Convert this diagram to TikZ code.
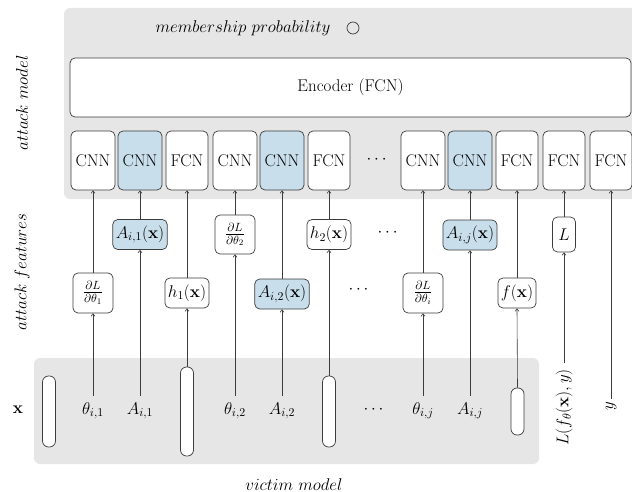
\RequirePackage{fix-cm}
\documentclass[tikz,border=0pt]{standalone}
\usepackage{amsmath}
\usetikzlibrary{arrows.meta}
\definecolor{bgray}{RGB}{230,230,230}
\definecolor{lblue}{RGB}{200,222,235}
\definecolor{edge}{RGB}{60,60,60}
\begin{document}
\begin{tikzpicture}[x=1pt,y=-1pt,
  font=\fontsize{17}{20}\selectfont,
  box/.style={draw=edge, line width=0.7pt, rounded corners=5pt, fill=white, inner sep=3pt, align=center},
  cnn/.style={box, minimum width=44pt, minimum height=59pt},
  fcn/.style={box, minimum width=42pt, minimum height=59pt},
  hl/.style={fill=lblue},
  feat/.style={box, minimum height=30pt, inner xsep=3pt},
  grad/.style={feat, minimum height=40pt, minimum width=40pt},
  pill/.style={draw=edge, line width=0.7pt, rounded corners=6pt, fill=white, minimum width=13pt, inner sep=0pt},
  lbl/.style={anchor=north, text height=16pt, text depth=5pt, inner sep=2pt},
  arr/.style={draw=edge, line width=0.6pt, -{Straight Barb[length=2.5pt,width=4pt]}},
]
\useasboundingbox (0,0) rectangle (632,492);
\fill[bgray, rounded corners=6pt] (64,8) rectangle (645,199);
\fill[bgray, rounded corners=6pt] (34,358) rectangle (539,464);

% attack model
\node[anchor=base] (mp) at (243,33) {$membership~probability$};
\node[draw=edge, circle, minimum size=12pt, inner sep=0pt, line width=0.7pt] (out) at (353,28) {};
\node[box, minimum height=59pt, minimum width=561pt] (enc) at (350.5,87.5) {Encoder (FCN)};

\node[cnn] (c1) at (93,160.5) {CNN};
\node[cnn,hl] (c2) at (140,160.5) {CNN};
\node[fcn] (c3) at (187,160.5) {FCN};
\node[cnn] (c4) at (235,160.5) {CNN};
\node[cnn,hl] (c5) at (282,160.5) {CNN};
\node[fcn] (c6) at (329,160.5) {FCN};
\node (d1) at (378,160) {$\cdots$};
\node[cnn] (c7) at (423,160.5) {CNN};
\node[cnn,hl] (c8) at (470,160.5) {CNN};
\node[fcn] (c9) at (517,160.5) {FCN};
\node[fcn] (c10) at (564,160.5) {FCN};
\node[fcn] (c11) at (611,160.5) {FCN};

% features, upper row
\node[feat,hl] (a1) at (140,234.5) {$A_{i,1}(\mathbf{x})$};
\node[grad, minimum height=39pt] (g2) at (235,234.5) {$\frac{\partial L}{\partial\theta_2}$};
\node[feat] (h2) at (329,234.5) {$h_2(\mathbf{x})$};
\node (d2) at (389,233) {$\cdots$};
\node[feat,hl] (aj) at (470,235) {$A_{i,j}(\mathbf{x})$};
\node[feat, minimum height=35pt, minimum width=23pt] (lb) at (564,234.5) {$L$};

% features, lower row
\node[grad] (g1) at (93,293) {$\frac{\partial L}{\partial\theta_1}$};
\node[feat] (h1) at (187,293) {$h_1(\mathbf{x})$};
\node[feat,hl] (a2) at (282,294) {$A_{i,2}(\mathbf{x})$};
\node (d3) at (360,290) {$\cdots$};
\node[grad] (gi) at (423,293) {$\frac{\partial L}{\partial\theta_i}$};
\node[feat] (fx) at (517,293) {$f(\mathbf{x})$};

% victim model
\node[pill, minimum height=71pt] (p1) at (49,411.5) {};
\node[lbl] (t1) at (93,396) {$\theta_{i,1}$};
\node[lbl] (s1) at (140,396) {$A_{i,1}$};
\node[pill, minimum height=89pt] (p2) at (187,411.5) {};
\node[lbl] (t2) at (235,396) {$\theta_{i,2}$};
\node[lbl] (s2) at (282,396) {$A_{i,2}$};
\node[pill, minimum height=71pt] (p3) at (329,411.5) {};
\node (d4) at (375,410) {$\cdots$};
\node[lbl] (tj) at (423,396) {$\theta_{i,j}$};
\node[lbl] (sj) at (470,396) {$A_{i,j}$};
\node[pill, minimum height=47pt] (p4) at (517.5,411.5) {};
\node[rotate=90, anchor=east, inner sep=6pt] (lf) at (564,363) {$L(f_\theta(\mathbf{x}),y)$};
\node[rotate=90, anchor=east, inner sep=3pt] (yy) at (611,399) {$y$};

% side labels
\node (xl) at (18,410) {$\mathbf{x}$};
\node[rotate=90] (am) at (22,103) {$attack~model$};
\node[rotate=90] (af) at (22,272) {$attack~features$};
\node[anchor=base] (vm) at (294,490) {$victim~model$};

% connectors
\draw[arr] (t1.north) -- (g1.south);
\draw[arr] (g1.north) -- (c1.south);
\draw[arr] (s1.north) -- (a1.south);
\draw[arr] (a1.north) -- (c2.south);
\draw[arr] (p2.north) -- (h1.south);
\draw[arr] (h1.north) -- (c3.south);
\draw[arr] (t2.north) -- (g2.south);
\draw[arr] (g2.north) -- (c4.south);
\draw[arr] (s2.north) -- (a2.south);
\draw[arr] (a2.north) -- (c5.south);
\draw[arr] (p3.north) -- (h2.south);
\draw[arr] (h2.north) -- (c6.south);
\draw[arr] (tj.north) -- (gi.south);
\draw[arr] (gi.north) -- (c7.south);
\draw[arr] (sj.north) -- (aj.south);
\draw[arr] (aj.north) -- (c8.south);
\draw[arr] (p4.north) -- (fx.south);
\draw[arr] (fx.north) -- (c9.south);
\draw[arr] (lf.east) -- (lb.south);
\draw[arr] (lb.north) -- (c10.south);
\draw[arr] (yy.east) -- (c11.south);
\end{tikzpicture}
\end{document}
